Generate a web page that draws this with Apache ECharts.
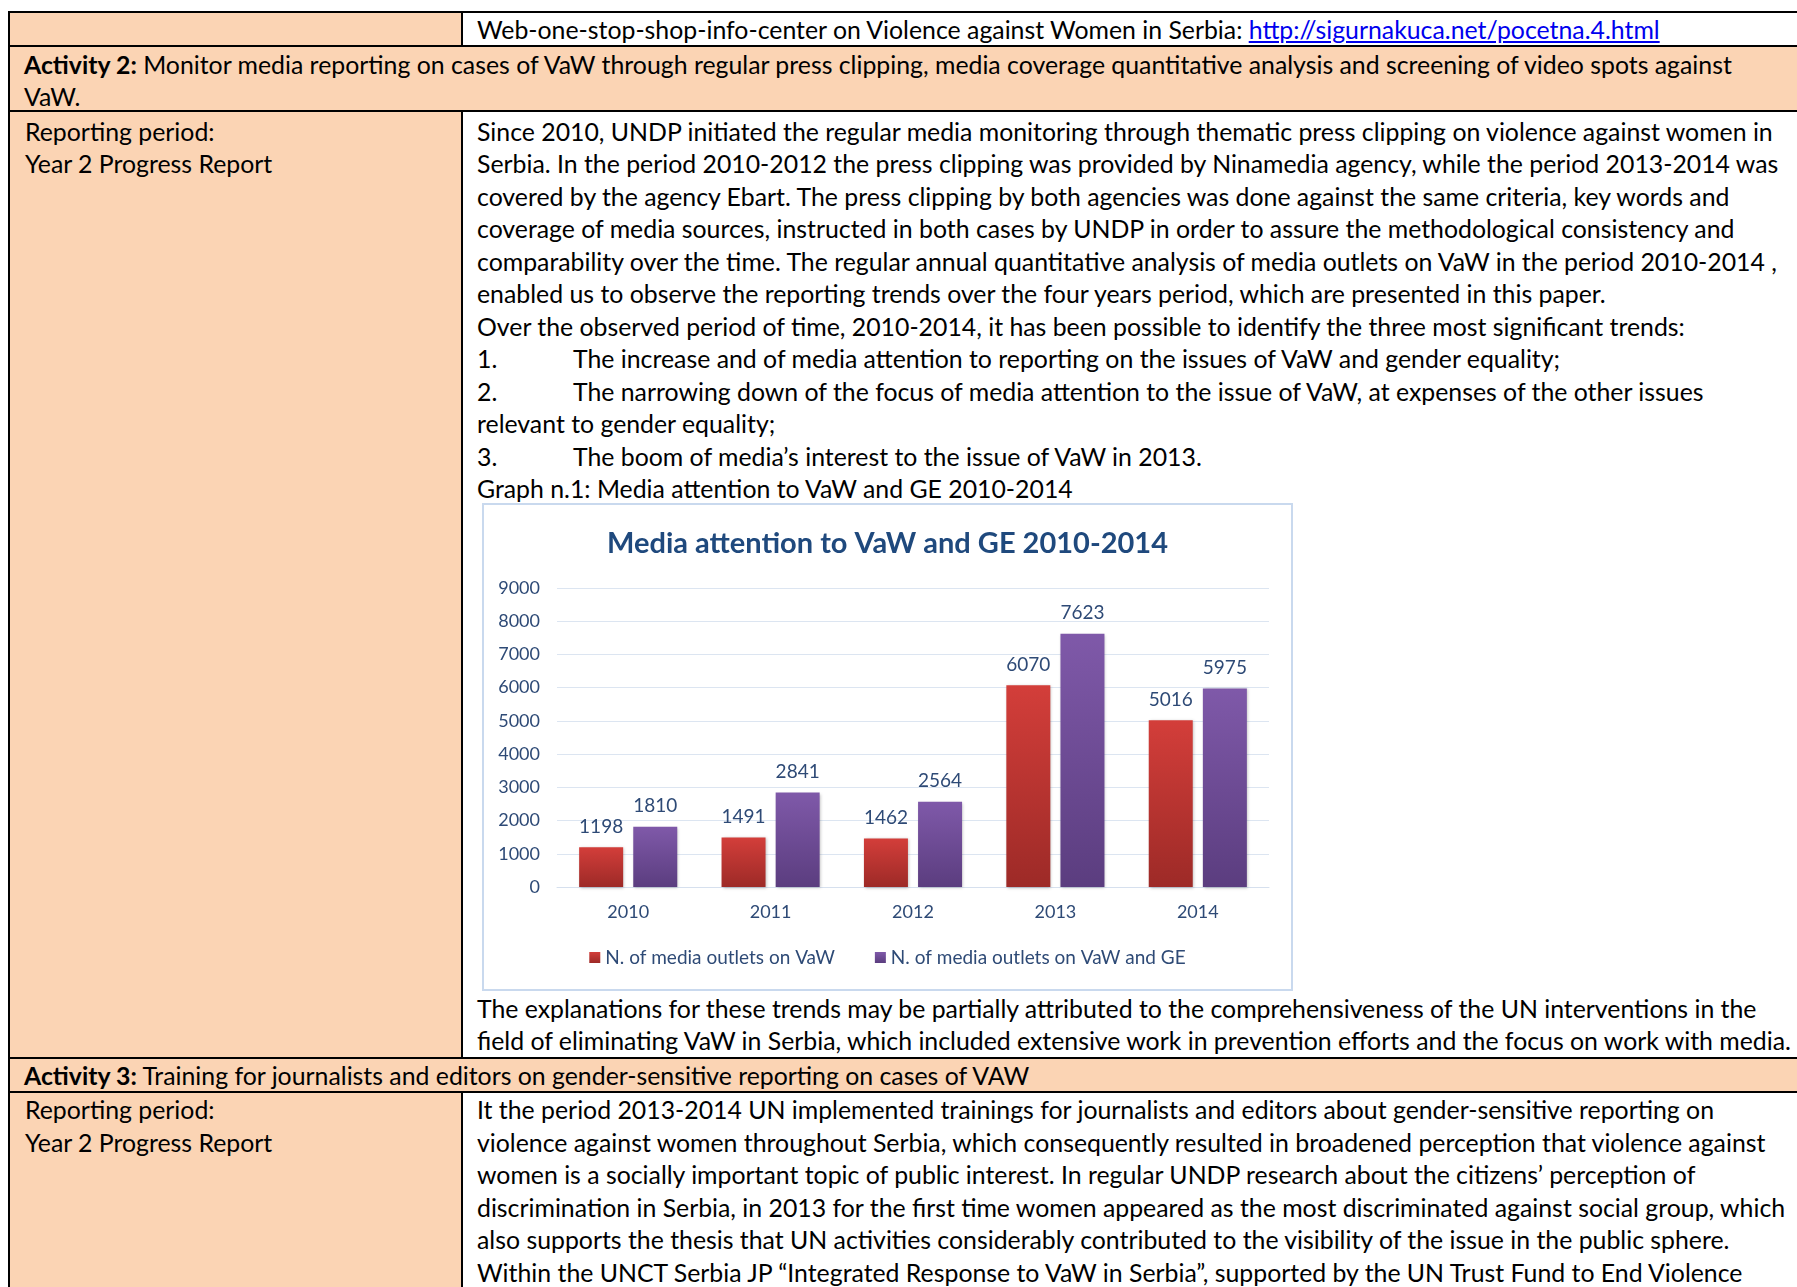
<!DOCTYPE html>
<html><head><meta charset="utf-8">
<script src="https://cdn.jsdelivr.net/npm/echarts@6/dist/echarts.min.js"></script>
<style>
html,body{margin:0;padding:0;background:#fff;}
body{width:1797px;height:1287px;overflow:hidden;position:relative;font-family:Lato,'Open Sans',sans-serif;color:#000;--fs:22px;}
.bg{position:absolute;}
.peach{background:#FBD4B4;}
.hl{position:absolute;left:8px;width:1800px;height:2px;background:#000;}
.vl{position:absolute;width:2px;background:#000;}
.ln{position:absolute;white-space:pre;line-height:32px;height:32px;font-size:var(--fs);}
.ln a{color:#0000EE;text-decoration:underline;}
.num{display:inline-block;width:96px;}
#box{position:absolute;left:482px;top:503px;width:811px;height:488px;box-sizing:border-box;border:2px solid #C9D9EE;background:#fff;}
#chart{position:absolute;left:0;top:0;width:807px;height:484px;}
</style>
</head><body>
<!-- backgrounds -->
<div class="bg peach" style="left:8px;top:12px;width:455px;height:34px"></div>
<div class="bg peach" style="left:8px;top:46px;width:1800px;height:66px"></div>
<div class="bg peach" style="left:8px;top:112px;width:455px;height:946px"></div>
<div class="bg peach" style="left:8px;top:1058px;width:1800px;height:34px"></div>
<div class="bg peach" style="left:8px;top:1092px;width:455px;height:200px"></div>
<!-- borders -->
<div class="hl" style="top:11px"></div>
<div class="hl" style="top:45px"></div>
<div class="hl" style="top:110px"></div>
<div class="hl" style="top:1057px"></div>
<div class="hl" style="top:1091px"></div>
<div class="vl" style="left:8px;top:11px;height:1290px"></div>
<div class="vl" style="left:461px;top:11px;height:35px"></div>
<div class="vl" style="left:461px;top:110px;height:948px"></div>
<div class="vl" style="left:461px;top:1091px;height:200px"></div>

<!-- row 1 -->
<div class="ln" style="left:477px;top:13px">Web-one-stop-shop-info-center on Violence against Women in Serbia: <a>http://sigurnakuca.net/pocetna.4.html</a></div>
<!-- row 2 -->
<div class="ln" style="left:24px;top:48px"><b>Activity 2:</b> Monitor media reporting on cases of VaW through regular press clipping, media coverage quantitative analysis and screening of video spots against</div>
<div class="ln" style="left:24px;top:80px">VaW.</div>
<!-- row 3 -->
<div class="ln" style="left:25px;top:115px">Reporting period:</div>
<div class="ln" style="left:25px;top:147px">Year 2 Progress Report</div>
<div class="ln" id="probe" style="left:477px;top:115px">Since 2010, UNDP initiated the regular media monitoring through thematic press clipping on violence against women in</div>
<div class="ln" style="left:477px;top:147px">Serbia. In the period 2010-2012 the press clipping was provided by Ninamedia agency, while the period 2013-2014 was</div>
<div class="ln" style="left:477px;top:180px">covered by the agency Ebart. The press clipping by both agencies was done against the same criteria, key words and</div>
<div class="ln" style="left:477px;top:212px">coverage of media sources, instructed in both cases by UNDP in order to assure the methodological consistency and</div>
<div class="ln" style="left:477px;top:245px">comparability over the time. The regular annual quantitative analysis of media outlets on VaW in the period 2010-2014 ,</div>
<div class="ln" style="left:477px;top:277px">enabled us to observe the reporting trends over the four years period, which are presented in this paper.</div>
<div class="ln" style="left:477px;top:310px">Over the observed period of time, 2010-2014, it has been possible to identify the three most significant trends:</div>
<div class="ln" style="left:477px;top:342px"><span class="num">1.</span>The increase and of media attention to reporting on the issues of VaW and gender equality;</div>
<div class="ln" style="left:477px;top:375px"><span class="num">2.</span>The narrowing down of the focus of media attention to the issue of VaW, at expenses of the other issues</div>
<div class="ln" style="left:477px;top:407px">relevant to gender equality;</div>
<div class="ln" style="left:477px;top:440px"><span class="num">3.</span>The boom of media’s interest to the issue of VaW in 2013.</div>
<div class="ln" style="left:477px;top:472px">Graph n.1: Media attention to VaW and GE 2010-2014</div>
<div id="box"><div id="chart"></div></div>
<div class="ln" style="left:477px;top:992px">The explanations for these trends may be partially attributed to the comprehensiveness of the UN interventions in the</div>
<div class="ln" style="left:477px;top:1024px">field of eliminating VaW in Serbia, which included extensive work in prevention efforts and the focus on work with media.</div>
<!-- row 4 -->
<div class="ln" style="left:24px;top:1059px"><b>Activity 3:</b> Training for journalists and editors on gender-sensitive reporting on cases of VAW</div>
<!-- row 5 -->
<div class="ln" style="left:25px;top:1093px">Reporting period:</div>
<div class="ln" style="left:25px;top:1126px">Year 2 Progress Report</div>
<div class="ln" style="left:477px;top:1093px">It the period 2013-2014 UN implemented trainings for journalists and editors about gender-sensitive reporting on</div>
<div class="ln" style="left:477px;top:1126px">violence against women throughout Serbia, which consequently resulted in broadened perception that violence against</div>
<div class="ln" style="left:477px;top:1158px">women is a socially important topic of public interest. In regular UNDP research about the citizens’ perception of</div>
<div class="ln" style="left:477px;top:1191px">discrimination in Serbia, in 2013 for the first time women appeared as the most discriminated against social group, which</div>
<div class="ln" style="left:477px;top:1223px">also supports the thesis that UN activities considerably contributed to the visibility of the issue in the public sphere.</div>
<div class="ln" style="left:477px;top:1256px">Within the UNCT Serbia JP “Integrated Response to VaW in Serbia”, supported by the UN Trust Fund to End Violence</div>

<script>
// ---- chart data ----
const categories = ['2010', '2011', '2012', '2013', '2014'];
const vawValues = [1198, 1491, 1462, 6070, 5016];
const vawGeValues = [1810, 2841, 2564, 7623, 5975];
const seriesNames = ['N. of media outlets on VaW', 'N. of media outlets on VaW and GE'];
const chartTitle = 'Media attention to VaW and GE 2010-2014';
const yMin = 0, yMax = 9000, yStep = 1000;

// ---- fit document font width to reference ----
(function () {
  const p = document.getElementById('probe');
  p.style.fontSize = '100px';
  const w = p.getBoundingClientRect().width;
  p.style.fontSize = '';
  const fs = 100 * 1296 / w;
  document.body.style.setProperty('--fs', fs.toFixed(2) + 'px');
})();

const labelColor = '#2E4A76';
const font = 'Lato';
const chart = echarts.init(document.getElementById('chart'));
const redGrad = new echarts.graphic.LinearGradient(0, 0, 0, 1, [
  { offset: 0, color: '#D33E3A' }, { offset: 1, color: '#9D2A27' }]);
const purpleGrad = new echarts.graphic.LinearGradient(0, 0, 0, 1, [
  { offset: 0, color: '#7F59A9' }, { offset: 1, color: '#5B3D7F' }]);
const barLabel = { show: true, position: 'top', distance: 11, fontSize: 19, color: labelColor, fontFamily: font };
const shadow = { shadowBlur: 3, shadowColor: 'rgba(0,0,0,0.25)', shadowOffsetX: 1, shadowOffsetY: 1 };
chart.setOption({
  animation: false,
  title: {
    text: chartTitle, left: 'center', top: 19,
    textStyle: { fontFamily: font, fontWeight: 'bold', fontSize: 29, color: '#1F497D' }
  },
  grid: { left: 73, right: 22, top: 83, bottom: 102 },
  legend: {
    top: 438, left: 'center', itemWidth: 11, itemHeight: 11, itemGap: 40, icon: 'rect',
    textStyle: { fontFamily: font, fontSize: 19, color: labelColor, padding: [0, 0, 0, 0] },
    data: seriesNames
  },
  xAxis: {
    type: 'category', data: categories,
    axisLine: { lineStyle: { color: '#D6E0EE', width: 1 } },
    axisTick: { show: false },
    axisLabel: { fontFamily: font, fontSize: 18, color: labelColor, margin: 16 }
  },
  yAxis: {
    type: 'value', min: yMin, max: yMax, interval: yStep,
    axisLine: { show: false }, axisTick: { show: false },
    axisLabel: { fontFamily: font, fontSize: 18, color: labelColor, margin: 17, formatter: function (v) { return String(v); } },
    splitLine: { lineStyle: { color: '#DCE5F1', width: 1 } }
  },
  series: [
    { name: seriesNames[0], type: 'bar', data: vawValues, barWidth: 44, barGap: '23%',
      itemStyle: Object.assign({ color: redGrad }, shadow), label: barLabel },
    { name: seriesNames[1], type: 'bar', data: vawGeValues, barWidth: 44, barGap: '23%',
      itemStyle: Object.assign({ color: purpleGrad }, shadow), label: barLabel }
  ]
});
</script>
</body></html>
